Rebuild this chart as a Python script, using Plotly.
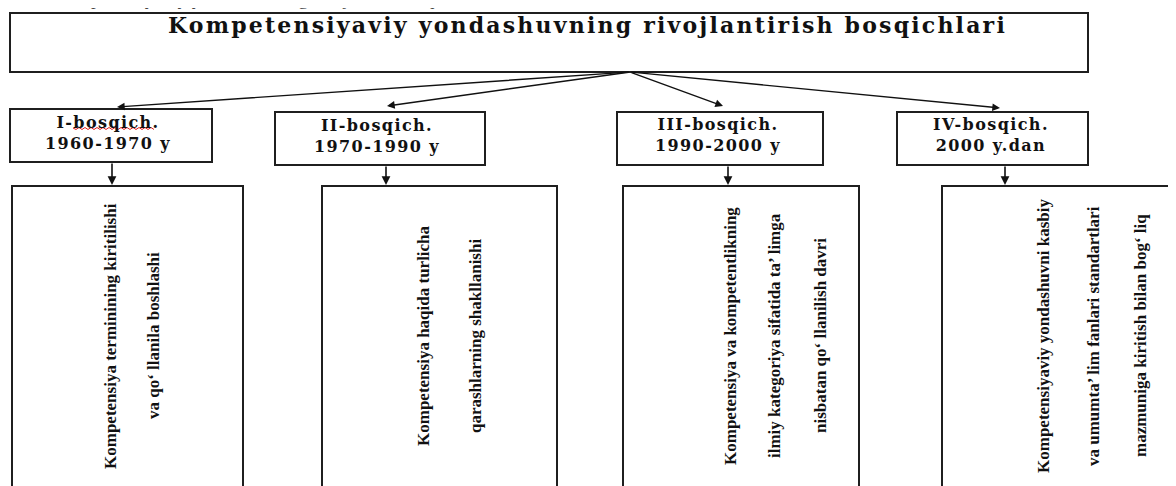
import plotly.graph_objects as go

# ---- content ----
page_heading = "Kompetensiyaviy yondashuvning rivojlanish bosqichlari"
main_title = "Kompetensiyaviy yondashuvning rivojlantirish bosqichlari"
stage_names = ["I-bosqich.", "II-bosqich.", "III-bosqich.", "IV-bosqich."]
stage_periods = ["1960-1970 y", "1970-1990 y", "1990-2000 y", "2000 y.dan"]
stage_descriptions = [
    ["Kompetensiya terminining kiritilishi", "va qo‘ llanila boshlashi"],
    ["Kompetensiya haqida turlicha", "qarashlarning shakllanishi"],
    ["Kompetensiya va kompetentlikning", "ilmiy kategoriya sifatida ta’ limga",
     "nisbatan qo‘ llanilish davri"],
    ["Kompetensiyaviy yondashuvni kasbiy", "va umumta’ lim fanlari standartlari",
     "mazmuniga kiritish bilan bog‘ liq"],
]

# ---- layout geometry (screen pixels) ----
W, H = 1176, 486
OFF = 8  # page body margin
top_box = dict(x0=10, x1=1088, y0=13, y1=72)
apex = (630, 72)
stage_boxes = [(10, 212, 109, 162), (275, 485, 112, 165), (617, 823, 112, 165), (897, 1088, 112, 165)]
stage_text_x = [108, 377, 718, 991]
stage_text_y = [133, 136, 135, 135]
arrow_targets = [(117, 107), (387, 106), (723, 106), (1000, 108)]
down_arrow_x = [112, 386, 728, 1005]
desc_boxes = [(12, 243), (322, 557), (623, 859), (942, 1173)]
desc_top = 186
desc_line_x = [[110, 153], [423, 475], [730, 774, 820], [1043, 1093, 1140]]
desc_center_y = 336

border = "#1f1f1f"
fig = go.Figure()
shapes = []
ann = []


def spaced(txt, px):
    return f'<span style="letter-spacing:{px}px">{txt}</span>'


shapes.append(dict(type="rect", xref="x", yref="y", **top_box,
                   line=dict(color=border, width=2), fillcolor="white"))
ann.append(dict(x=587, y=25, xref="x", yref="y", text="<b>" + spaced(main_title, 2.2) + "</b>",
                showarrow=False, font=dict(family="DejaVu Serif", size=22, color="#111")))
ann.append(dict(x=268, y=1 + 9 / H, xref="x", yref="paper", text=page_heading,
                showarrow=False, yanchor="middle",
                font=dict(family="Liberation Serif", size=19, color="#444")))

for i in range(4):
    x0, x1, y0, y1 = stage_boxes[i]
    shapes.append(dict(type="rect", xref="x", yref="y", x0=x0, x1=x1, y0=y0, y1=y1,
                       line=dict(color=border, width=2), fillcolor="white"))
    ann.append(dict(x=stage_text_x[i], y=stage_text_y[i], xref="x", yref="y",
                    text="<b>" + spaced(stage_names[i], 1.4) + "<br>"
                    + spaced(stage_periods[i], 1.4) + "</b>", showarrow=False,
                    font=dict(family="DejaVu Serif", size=16, color="#111")))
    tx, ty = arrow_targets[i]
    ann.append(dict(x=tx, y=ty, ax=apex[0], ay=apex[1], xref="x", yref="y",
                    axref="x", ayref="y", text="", showarrow=True, arrowhead=2,
                    arrowsize=1.1, arrowwidth=1.4, arrowcolor="#111", standoff=0))
    dx = down_arrow_x[i]
    ann.append(dict(x=dx, y=desc_top - 1, ax=dx, ay=y1, xref="x", yref="y",
                    axref="x", ayref="y", text="", showarrow=True, arrowhead=2,
                    arrowsize=1.1, arrowwidth=1.6, arrowcolor="#111", standoff=0))
    bx0, bx1 = desc_boxes[i]
    shapes.append(dict(type="rect", xref="x", yref="y", x0=bx0, x1=bx1, y0=desc_top, y1=H + 30,
                       line=dict(color=border, width=2), fillcolor="white"))
    for line, lx in zip(stage_descriptions[i], desc_line_x[i]):
        ann.append(dict(x=lx, y=desc_center_y, xref="x", yref="y", text="<b>" + line + "</b>",
                        showarrow=False, textangle=-90,
                        font=dict(family="Liberation Serif", size=17, color="#111")))

squiggle = "M 73 128 " + " ".join(
    f"L {73 + k * 3} {128 + (1.5 if k % 2 else -0.5)}" for k in range(1, 28))
shapes.append(dict(type="path", xref="x", yref="y", path=squiggle,
                   line=dict(color="#e02020", width=1)))

fig.update_layout(
    width=W, height=H, margin=dict(l=0, r=0, t=0, b=0),
    paper_bgcolor="white", plot_bgcolor="white",
    xaxis=dict(range=[OFF, W + OFF], visible=False, fixedrange=True),
    yaxis=dict(range=[H + OFF, OFF], visible=False, fixedrange=True),
    shapes=shapes, annotations=ann, showlegend=False,
)
fig.write_html("out.html")
